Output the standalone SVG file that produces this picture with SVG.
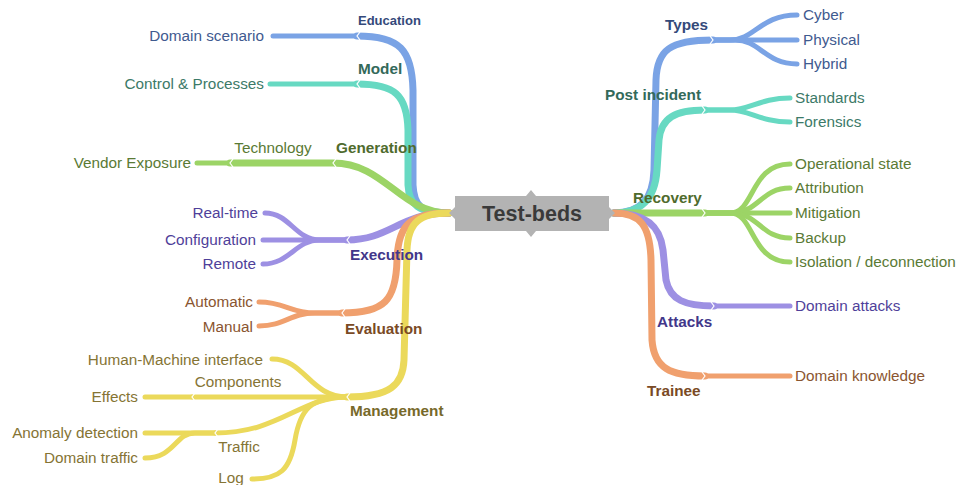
<svg xmlns="http://www.w3.org/2000/svg" width="957" height="485" viewBox="0 0 957 485">
<style>
.c{fill:none;stroke-linecap:round;stroke-linejoin:round}
.m{stroke-width:7}
.s{stroke-width:5}
.bl{stroke:#7aa3e5}.tl{stroke:#67d9c2}.gr{stroke:#9cd466}.pu{stroke:#9d90e3}.or{stroke:#f0a06e}.ye{stroke:#ebd95b}
text{font-family:"Liberation Sans",Arial,sans-serif;font-size:15.3px}
.b{font-weight:bold}
.tbl{fill:#3f5a8f}.bbl{fill:#34497a}
.ttl{fill:#3c7a68}.btl{fill:#33695a}
.tgr{fill:#5a7a35}.bgr{fill:#4f6b2d}
.tpu{fill:#4f3f9a}.bpu{fill:#42378a}
.tor{fill:#8a5530}.bor{fill:#7a4a25}
.tye{fill:#857434}.bye{fill:#77692a}
.ch{fill:none;stroke:#fff;stroke-width:1.2}
</style>
<g id="connectors">
<path class="c m bl" d="M449,213 C420,213 414,205 413,185 L413,90 C412,50 400,36 357,36"/>
<path class="c s bl" d="M357,36 L273,36"/>
<path class="c m tl" d="M449,213 C418,213 409,205 408,185 L408,130 C407,95 395,84 357,84"/>
<path class="c s tl" d="M357,84 L270,84"/>
<path class="c m gr" d="M449,213 C400,213 385,163 333,163 L230,163"/>
<path class="c s gr" d="M230,163 L197,163"/>
<path class="c m pu" d="M449,213 C400,213 390,240 347,240"/>
<path class="c s pu" d="M347,240 L320,240 C295,240 290,213 265,213"/>
<path class="c s pu" d="M347,240 L263,240"/>
<path class="c s pu" d="M347,240 L320,240 C295,240 290,264 263,264"/>
<path class="c m or" d="M449,213 C410,213 398,225 397,260 C396,300 385,313 342,313"/>
<path class="c s or" d="M342,313 L315,313 C290,313 285,302 259,302"/>
<path class="c s or" d="M342,313 L315,313 C290,313 285,326 259,326"/>
<path class="c m ye" d="M449,213 C420,213 408,222 407,250 L404,360 C403,385 390,397 347,397"/>
<path class="c s ye" d="M347,397 C310,397 305,359 272,359"/>
<path class="c s ye" d="M347,397 L192,397"/>
<path class="c s ye" d="M192,397 L145,397"/>
<path class="c s ye" d="M347,397 C300,397 280,433 215,433"/>
<path class="c s ye" d="M215,433 L145,433"/>
<path class="c s ye" d="M215,433 L195,433 C175,433 175,458 145,458"/>
<path class="c s ye" d="M347,397 C310,397 300,410 295,440 C290,470 280,479 252,479"/>
<path class="c m bl" d="M614,213 C640,213 653,200 654,170 L656,80 C657,50 670,40 713,40"/>
<path class="c s bl" d="M713,40 L730,40 C755,40 760,15 797,15"/>
<path class="c s bl" d="M713,40 L797,40"/>
<path class="c s bl" d="M713,40 L735,40 C760,40 765,64 797,64"/>
<path class="c m tl" d="M614,213 C640,213 655,200 657,170 L659,140 C661,118 675,110 705,110"/>
<path class="c s tl" d="M705,110 L730,110 C750,110 760,98 790,98"/>
<path class="c s tl" d="M705,110 L730,110 C750,110 760,122 790,122"/>
<path class="c m gr" d="M614,213 L705,213"/>
<path class="c s gr" d="M705,213 L730,213 C755,213 750,164 790,164"/>
<path class="c s gr" d="M705,213 L730,213 C760,213 760,188 790,188"/>
<path class="c s gr" d="M705,213 L790,213"/>
<path class="c s gr" d="M705,213 L730,213 C760,213 760,238 790,238"/>
<path class="c s gr" d="M705,213 L730,213 C755,213 750,262 790,262"/>
<path class="c m pu" d="M614,213 C645,213 660,225 663,250 L666,280 C670,300 685,306 714,306"/>
<path class="c s pu" d="M714,306 L790,306"/>
<path class="c m or" d="M614,213 C640,213 650,225 651,260 L652,340 C654,368 670,376 705,376"/>
<path class="c s or" d="M705,376 L790,376"/>
<polyline class="ch" points="360,32 357,36 360,40"/>
<polyline class="ch" points="360,80 357,84 360,88"/>
<polyline class="ch" points="336,159 333,163 336,167"/>
<polyline class="ch" points="233,159 230,163 233,167"/>
<polyline class="ch" points="350,236 347,240 350,244"/>
<polyline class="ch" points="345,309 342,313 345,317"/>
<polyline class="ch" points="350,393 347,397 350,401"/>
<polyline class="ch" points="195,393 192,397 195,401"/>
<polyline class="ch" points="218,429 215,433 218,437"/>
<polyline class="ch" points="710,36 713,40 710,44"/>
<polyline class="ch" points="702,106 705,110 702,114"/>
<polyline class="ch" points="702,209 705,213 702,217"/>
<polyline class="ch" points="711,302 714,306 711,310"/>
<polyline class="ch" points="702,372 705,376 702,380"/>
</g>
<g id="root">
<polygon points="449,213 455,207 455,196 526,196 531,190 536,196 609,196 609,207 615,213 609,219 609,231 536,231 531,237 526,231 455,231 455,219" fill="#b3b3b3"/>
<text x="532" y="221" text-anchor="middle" class="b" style="font-size:21.5px" fill="#3a3a3a">Test-beds</text>
</g>
<g id="education"><text x="358" y="25" class="b bbl" style="font-size:13px">Education</text></g>
<g id="domain-scenario"><text x="264" y="41" text-anchor="end" class="tbl">Domain scenario</text></g>
<g id="model"><text x="358" y="74" class="b btl">Model</text></g>
<g id="control-processes"><text x="264" y="89" text-anchor="end" class="ttl">Control &amp; Processes</text></g>
<g id="generation"><text x="336" y="153" class="b bgr">Generation</text></g>
<g id="technology"><text x="273" y="153" text-anchor="middle" class="tgr">Technology</text></g>
<g id="vendor-exposure"><text x="191" y="168" text-anchor="end" class="tgr">Vendor Exposure</text></g>
<g id="execution"><text x="350" y="260" class="b bpu">Execution</text></g>
<g id="real-time"><text x="258" y="218" text-anchor="end" class="tpu">Real-time</text></g>
<g id="configuration"><text x="256" y="245" text-anchor="end" class="tpu">Configuration</text></g>
<g id="remote"><text x="256" y="269" text-anchor="end" class="tpu">Remote</text></g>
<g id="evaluation"><text x="345" y="334" class="b bor">Evaluation</text></g>
<g id="automatic"><text x="253" y="307" text-anchor="end" class="tor">Automatic</text></g>
<g id="manual"><text x="253" y="332" text-anchor="end" class="tor">Manual</text></g>
<g id="management"><text x="350" y="416" class="b bye">Management</text></g>
<g id="hmi"><text x="263" y="365" text-anchor="end" class="tye">Human-Machine interface</text></g>
<g id="components"><text x="238" y="387" text-anchor="middle" class="tye">Components</text></g>
<g id="effects"><text x="138" y="402" text-anchor="end" class="tye">Effects</text></g>
<g id="traffic"><text x="239" y="452" text-anchor="middle" class="tye">Traffic</text></g>
<g id="anomaly-detection"><text x="138" y="438" text-anchor="end" class="tye">Anomaly detection</text></g>
<g id="domain-traffic"><text x="138" y="463" text-anchor="end" class="tye">Domain traffic</text></g>
<g id="log"><text x="231" y="483" text-anchor="middle" class="tye">Log</text></g>
<g id="types"><text x="665" y="30" class="b bbl">Types</text></g>
<g id="cyber"><text x="803" y="20" class="tbl">Cyber</text></g>
<g id="physical"><text x="803" y="45" class="tbl">Physical</text></g>
<g id="hybrid"><text x="803" y="69" class="tbl">Hybrid</text></g>
<g id="post-incident"><text x="605" y="100" class="b btl">Post incident</text></g>
<g id="standards"><text x="795" y="103" class="ttl">Standards</text></g>
<g id="forensics"><text x="795" y="127" class="ttl">Forensics</text></g>
<g id="recovery"><text x="633" y="203" class="b bgr">Recovery</text></g>
<g id="operational-state"><text x="795" y="169" class="tgr">Operational state</text></g>
<g id="attribution"><text x="795" y="193" class="tgr">Attribution</text></g>
<g id="mitigation"><text x="795" y="218" class="tgr">Mitigation</text></g>
<g id="backup"><text x="795" y="243" class="tgr">Backup</text></g>
<g id="isolation"><text x="795" y="267" class="tgr">Isolation / deconnection</text></g>
<g id="attacks"><text x="657" y="327" class="b bpu">Attacks</text></g>
<g id="domain-attacks"><text x="795" y="311" class="tpu">Domain attacks</text></g>
<g id="trainee"><text x="647" y="396" class="b bor">Trainee</text></g>
<g id="domain-knowledge"><text x="795" y="381" class="tor">Domain knowledge</text></g>
</svg>
